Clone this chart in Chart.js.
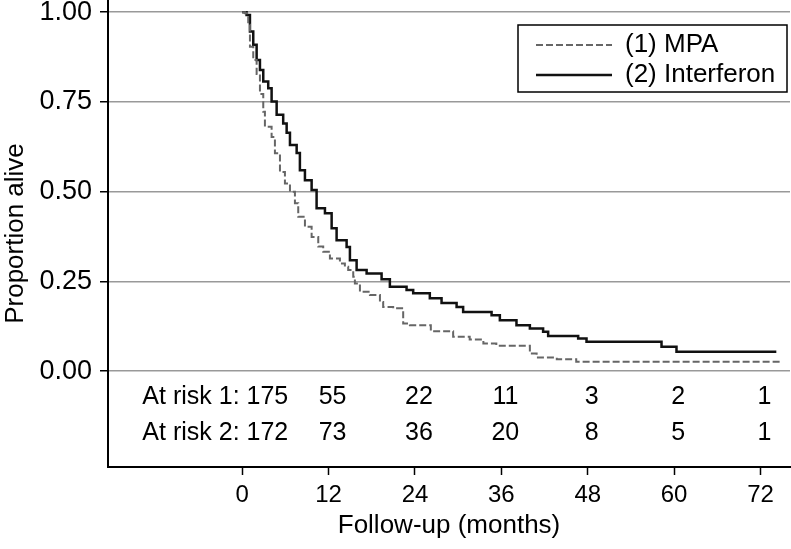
<!DOCTYPE html>
<html>
<head>
<meta charset="utf-8">
<script src="https://cdn.jsdelivr.net/npm/chart.js@4"></script>
<style>
  body { margin: 0; background: #fff; }
  #wrap { width: 791px; height: 549px; }
</style>
</head>
<body>
<div id="wrap"><canvas id="km"></canvas></div>
<script>
// Kaplan-Meier estimates (months, proportion alive)
const timesMPA = [0, 0.4, 0.83, 1.07, 1.53, 2.0, 2.46, 2.92, 3.15, 4.08, 4.54, 5.24, 5.93, 6.63, 7.32, 7.78, 8.71, 9.64, 10.56, 11.25, 12.18, 13.57, 14.26, 14.72, 15.42, 15.65, 16.35, 17.74, 19.13, 19.58, 20.97, 22.36, 23.29, 26.2, 29.3, 31.6, 33.5, 35.3, 39.96, 40.9, 43.7, 46.4, 74.7]
const survMPA = [1, 0.997, 0.965, 0.904, 0.867, 0.828, 0.772, 0.723, 0.681, 0.652, 0.607, 0.555, 0.523, 0.5, 0.468, 0.43, 0.402, 0.374, 0.347, 0.333, 0.314, 0.3, 0.291, 0.282, 0.263, 0.244, 0.221, 0.212, 0.193, 0.179, 0.175, 0.133, 0.128, 0.111, 0.096, 0.088, 0.077, 0.071, 0.049, 0.038, 0.033, 0.026, 0.026]

const timesIFN = [0, 0.6, 1.07, 1.53, 2.0, 2.46, 2.92, 3.61, 4.08, 4.78, 5.69, 6.17, 6.63, 7.56, 8.01, 8.71, 9.64, 10.33, 11.49, 12.42, 13.11, 14.5, 14.96, 15.89, 17.28, 19.36, 20.51, 22.83, 23.75, 26.06, 27.69, 29.78, 30.69, 34.64, 35.79, 38.1, 39.96, 41.8, 42.5, 46.67, 47.83, 58.25, 60.33, 74.2]
const survIFN = [1, 0.992, 0.946, 0.909, 0.867, 0.839, 0.807, 0.788, 0.751, 0.714, 0.69, 0.664, 0.63, 0.608, 0.56, 0.532, 0.505, 0.454, 0.44, 0.398, 0.365, 0.346, 0.309, 0.282, 0.272, 0.256, 0.235, 0.226, 0.217, 0.203, 0.19, 0.179, 0.165, 0.156, 0.142, 0.128, 0.119, 0.11, 0.098, 0.091, 0.082, 0.068, 0.054, 0.054]

const xTicks = [0, 12, 24, 36, 48, 60, 72]
const yTicks = [0, 0.25, 0.5, 0.75, 1]
const atRisk1 = [175, 55, 22, 11, 3, 2, 1]
const atRisk2 = [172, 73, 36, 20, 8, 5, 1]

const seriesNames = ['(1) MPA', '(2) Interferon']

const FONT = '"Liberation Sans", Arial, Helvetica, sans-serif'

const toPoints = (xs, ys) => xs.map((x, i) => ({x: x, y: ys[i]}))

// numbers-at-risk table drawn under the zero line
const atRiskPlugin = {
    id: 'atRisk',
    afterDatasetsDraw(chart) {
        const {ctx, chartArea, scales} = chart
        const rows = [
            {label: 'At risk 1: ', values: atRisk1, y: chartArea.bottom - 70},
            {label: 'At risk 2: ', values: atRisk2, y: chartArea.bottom - 34},
        ]
        ctx.save()
        ctx.fillStyle = '#000'
        ctx.font = '25px ' + FONT
        ctx.textBaseline = 'middle'
        rows.forEach(row => {
            row.values.forEach((v, i) => {
                const px = scales.x.getPixelForValue(xTicks[i])
                if (i === 0) {
                    ctx.textAlign = 'right'
                    ctx.fillText(row.label + v, px + 46, row.y)
                } else {
                    ctx.textAlign = 'center'
                    ctx.fillText(String(v), px + 4, row.y)
                }
            })
        })
        ctx.restore()
    },
}

// boxed legend in the top right corner
const boxLegendPlugin = {
    id: 'boxLegend',
    afterDraw(chart) {
        const {ctx, chartArea} = chart
        const right = chartArea.right - 3
        const left = right - 269
        const top = chartArea.top + 25
        const h = 67
        ctx.save()
        ctx.strokeStyle = '#000'
        ctx.lineWidth = 1.5
        ctx.strokeRect(left, top, right - left, h)
        const rows = [top + 20, top + 50]
        chart.data.datasets.forEach((ds, i) => {
            ctx.beginPath()
            ctx.strokeStyle = ds.borderColor
            ctx.lineWidth = ds.borderWidth
            ctx.setLineDash(ds.borderDash || [])
            ctx.moveTo(left + 18, rows[i])
            ctx.lineTo(left + 94, rows[i])
            ctx.stroke()
            ctx.setLineDash([])
            ctx.fillStyle = '#000'
            ctx.font = '26px ' + FONT
            ctx.textAlign = 'left'
            ctx.textBaseline = 'middle'
            ctx.fillText(ds.label, left + 107, rows[i])
        })
        ctx.restore()
    },
}

const noPad = scale => {
    scale.paddingTop = 0
    scale.paddingBottom = 0
    scale.paddingLeft = 0
    scale.paddingRight = 0
}

new Chart(document.getElementById('km').getContext('2d'), {
    type: 'line',
    data: {
        datasets: [
            {
                label: seriesNames[0],
                data: toPoints(timesMPA, survMPA),
                borderColor: '#666',
                borderWidth: 2,
                borderDash: [7, 3],
                stepped: 'before',
                pointRadius: 0,
                fill: false,
            },
            {
                label: seriesNames[1],
                data: toPoints(timesIFN, survIFN),
                borderColor: '#111',
                borderWidth: 2.5,
                stepped: 'before',
                pointRadius: 0,
                fill: false,
            },
        ],
    },
    options: {
        responsive: true,
        maintainAspectRatio: false,
        animation: false,
        layout: {autoPadding: false, padding: {top: 0, right: 1, left: 0, bottom: 0}},
        plugins: {
            legend: {display: false},
            tooltip: {enabled: false},
        },
        scales: {
            x: {
                type: 'linear',
                min: -18.65,
                max: 76.1,
                afterBuildTicks: scale => {
                    scale.ticks = xTicks.map(v => ({value: v}))
                },
                afterFit: scale => {
                    scale.height = 82
                    noPad(scale)
                },
                border: {display: true, color: '#000', width: 2},
                grid: {drawOnChartArea: false, drawTicks: true, tickLength: 8, tickColor: '#000', tickWidth: 1.5},
                ticks: {color: '#000', padding: 6, maxRotation: 0, font: {size: 24, family: FONT}},
                title: {
                    display: true,
                    text: 'Follow-up (months)',
                    color: '#000',
                    font: {size: 26, family: FONT},
                    padding: {top: 0, bottom: 8},
                },
            },
            y: {
                min: -0.267,
                max: 1.034,
                afterBuildTicks: scale => {
                    scale.ticks = yTicks.map(v => ({value: v}))
                },
                afterFit: scale => {
                    scale.width = 108
                    noPad(scale)
                },
                border: {display: true, color: '#000', width: 2},
                grid: {color: '#999', lineWidth: 1.5, tickLength: 8, tickColor: '#000', tickWidth: 1.5},
                ticks: {
                    color: '#000',
                    padding: 8,
                    font: {size: 27, family: FONT},
                    callback: v => v.toFixed(2),
                },
                title: {
                    display: true,
                    text: 'Proportion alive',
                    color: '#000',
                    font: {size: 26, family: FONT},
                    padding: {top: 0, bottom: 0},
                },
            },
        },
    },
    plugins: [atRiskPlugin, boxLegendPlugin],
})
</script>
</body>
</html>
